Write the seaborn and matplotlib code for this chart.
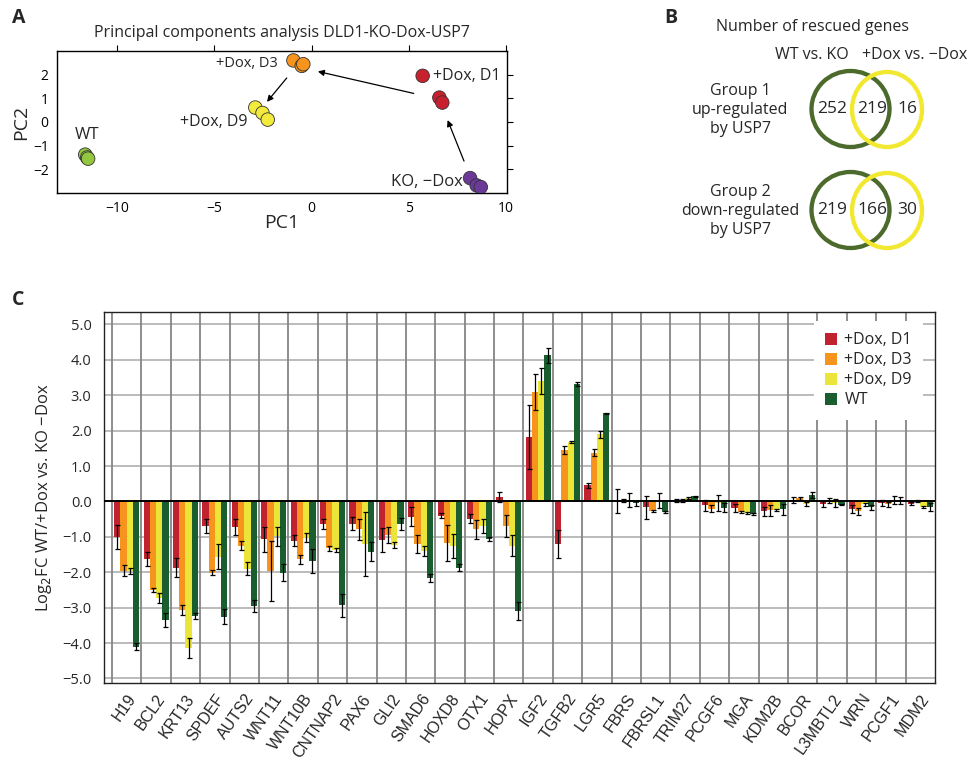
import matplotlib

matplotlib.use("Agg")
import matplotlib.pyplot as plt
import numpy as np
import pandas as pd
import seaborn as sns
from matplotlib.patches import Ellipse

# ----------------------------------------------------------------------
# Data
# ----------------------------------------------------------------------

# Panel A: PCA coordinates (three replicates per condition)
pca_groups = ["WT", "+Dox, D3", "+Dox, D9", "+Dox, D1", "KO, \u2212Dox"]
pca_pc1 = [
    [-11.65, -11.55, -11.5],
    [-0.94, -0.51, -0.43],
    [-2.9, -2.53, -2.26],
    [5.71, 6.57, 6.72],
    [8.15, 8.49, 8.7],
]
pca_pc2 = [
    [-1.38, -1.5, -1.55],
    [2.6, 2.37, 2.44],
    [0.61, 0.38, 0.1],
    [1.95, 1.03, 0.82],
    [-2.37, -2.68, -2.75],
]
pca_colors = ["#93c83e", "#f7941d", "#f2ea3c", "#c8202f", "#6b3a98"]

# Panel B: Venn counts (WT vs. KO only, overlap, +Dox vs. -Dox only)
venn_group1 = [252, 219, 16]
venn_group2 = [219, 166, 30]

# Panel C: log2 fold changes
genes = [
    "H19", "BCL2", "KRT13", "SPDEF", "AUTS2", "WNT11", "WNT10B", "CNTNAP2",
    "PAX6", "GLI2", "SMAD6", "HOXD8", "OTX1", "HOPX", "IGF2", "TGFB2", "LGR5",
    "FBRS", "FBRSL1", "TRIM27", "PCGF6", "MGA", "KDM2B", "BCOR", "L3MBTL2",
    "WRN", "PCGF1", "MDM2",
]
conditions = ["+Dox, D1", "+Dox, D3", "+Dox, D9", "WT"]
bar_colors = ["#c0222f", "#f7941d", "#ebe53a", "#1a5e2f"]

fc_d1 = [-1.0, -1.62, -1.87, -0.69, -0.72, -1.07, -1.11, -0.65, -0.63, -1.08,
         -0.43, -0.4, -0.49, 0.12, 1.82, -1.2, 0.45, 0.0, -0.17, 0.02, -0.11,
         -0.18, -0.28, 0.04, -0.08, -0.21, -0.05, -0.06]
fc_d3 = [-1.96, -2.5, -3.06, -2.01, -1.25, -1.96, -1.64, -1.33, -0.79, -0.95,
         -1.2, -1.17, -0.79, -0.69, 3.09, 1.45, 1.38, 0.03, -0.28, 0.03, -0.21,
         -0.3, -0.25, 0.09, 0.03, -0.28, -0.08, 0.01]
fc_d9 = [-1.96, -2.74, -4.13, -1.56, -1.9, -0.98, -1.02, -1.37, -1.2, -1.23,
         -1.39, -1.26, -0.7, -1.25, 3.4, 1.68, 1.9, 0.03, 0.03, 0.09, -0.05,
         -0.33, -0.24, -0.08, -0.05, -0.08, 0.04, -0.15]
fc_wt = [-4.1, -3.35, -3.23, -3.26, -2.95, -2.01, -1.68, -2.94, -1.42, -0.64,
         -2.16, -1.87, -1.06, -3.09, 4.13, 3.31, 2.49, -0.05, -0.3, 0.14, -0.18,
         -0.36, -0.22, 0.18, -0.09, -0.17, 0.03, -0.15]

err_d1 = [0.34, 0.2, 0.27, 0.2, 0.22, 0.35, 0.15, 0.14, 0.19, 0.34, 0.27, 0.07,
          0.13, 0.14, 0.9, 0.39, 0.08, 0.34, 0.32, 0.05, 0.16, 0.12, 0.13, 0.09,
          0.08, 0.12, 0.09, 0.05]
err_d3 = [0.15, 0.05, 0.14, 0.06, 0.13, 0.84, 0.12, 0.07, 0.3, 0.23, 0.26, 0.5,
          0.27, 0.32, 0.52, 0.11, 0.1, 0.05, 0.03, 0.05, 0.1, 0.03, 0.15, 0.04,
          0.08, 0.09, 0.07, 0.02]
err_d9 = [0.09, 0.14, 0.28, 0.36, 0.18, 0.27, 0.12, 0.05, 0.91, 0.08, 0.14, 0.33,
          0.19, 0.29, 0.37, 0.03, 0.1, 0.2, 0.21, 0.03, 0.22, 0.02, 0.03, 0.05,
          0.11, 0.04, 0.1, 0.03]
err_wt = [0.1, 0.2, 0.08, 0.21, 0.16, 0.23, 0.34, 0.33, 0.27, 0.18, 0.12, 0.1,
          0.05, 0.26, 0.21, 0.05, 0.02, 0.07, 0.04, 0.02, 0.13, 0.02, 0.15, 0.08,
          0.02, 0.08, 0.1, 0.11]

MAIN_FONT = ["Open Sans", "DejaVu Sans"]

sns.set_theme(style="white")
plt.rcParams["font.family"] = MAIN_FONT
plt.rcParams["axes.unicode_minus"] = True

fig = plt.figure(figsize=(9.73, 7.64), dpi=100)

# ----------------------------------------------------------------------
# Panel A: PCA scatter
# ----------------------------------------------------------------------
ax_a = fig.add_axes([0.0586, 0.7474, 0.4625, 0.1859])
pca_rows = []
for grp, xs, ys in zip(pca_groups, pca_pc1, pca_pc2):
    for x, y in zip(xs, ys):
        pca_rows.append({"group": grp, "PC1": x, "PC2": y})
pca_df = pd.DataFrame(pca_rows)
sns.scatterplot(
    data=pca_df, x="PC1", y="PC2", hue="group", hue_order=pca_groups,
    palette=pca_colors, s=95, edgecolor="#333333", linewidth=0.6,
    legend=False, ax=ax_a, zorder=3,
)
ax_a.set_xlim(-13.1, 10.05)
ax_a.set_ylim(-3.0, 3.0)
ax_a.set_xticks([-10, -5, 0, 5, 10])
ax_a.set_yticks([-2, -1, 0, 1, 2])
ax_a.tick_params(axis="both", which="both", direction="out", length=4, width=0.8,
                 top=True, right=True, labelsize=10, pad=2, colors="black")
for side in ["top", "right", "bottom", "left"]:
    ax_a.spines[side].set_color("black")
    ax_a.spines[side].set_linewidth(1.0)
ax_a.set_xlabel("PC1", fontsize=14, labelpad=-2)
ax_a.set_ylabel("PC2", fontsize=14, labelpad=2)
ax_a.set_title("Principal components analysis DLD1-KO-Dox-USP7", fontsize=11.5, pad=10)

arrow_kw = dict(arrowstyle="-|>", color="black", lw=0.9, mutation_scale=9)
ax_a.annotate("", xy=(0.18, 2.16), xytext=(5.39, 1.18), arrowprops=arrow_kw)
ax_a.annotate("", xy=(-2.39, 0.76), xytext=(-1.19, 1.95), arrowprops=arrow_kw)
ax_a.annotate("", xy=(6.94, 0.19), xytext=(7.89, -1.76), arrowprops=arrow_kw)

ax_a.text(-1.72, 2.45, "+Dox, D3", ha="right", va="center", fontsize=10.5)
ax_a.text(-3.3, 0.0, "+Dox, D9", ha="right", va="center", fontsize=11.5)
ax_a.text(-11.56, -0.57, "WT", ha="center", va="center", fontsize=12)
ax_a.text(6.25, 1.95, "+Dox, D1", ha="left", va="center", fontsize=11.5)
ax_a.text(7.8, -2.54, "KO, \u2212Dox", ha="right", va="center", fontsize=12)

# ----------------------------------------------------------------------
# Panel B: Venn diagrams (drawn in pixel coordinates on an overlay)
# ----------------------------------------------------------------------
ax_b = fig.add_axes([0, 0, 1, 1])
ax_b.set_xlim(0, 973)
ax_b.set_ylim(764, 0)
ax_b.axis("off")
ax_b.patch.set_alpha(0)

ax_b.text(813, 27, "Number of rescued genes", ha="center", va="center", fontsize=11.5)
ax_b.text(812, 55, "WT vs. KO", ha="center", va="center", fontsize=11.5)
ax_b.text(915, 55, "+Dox vs. \u2212Dox", ha="center", va="center", fontsize=11.5)

for cy, counts, label in [
    (109, venn_group1, "Group 1\nup-regulated\nby USP7"),
    (210, venn_group2, "Group 2\ndown-regulated\nby USP7"),
]:
    ax_b.add_patch(Ellipse((850.5, cy), 78, 76, fill=False, edgecolor="#4b6a2b", lw=3.1))
    ax_b.add_patch(Ellipse((887, cy + 0.5), 70, 75, fill=False, edgecolor="#f2e830", lw=3.1))
    for xpos, n in zip([832.5, 872, 907], counts):
        ax_b.text(xpos, cy, str(n), ha="center", va="center", fontsize=12.5, zorder=5)
    ax_b.text(740, cy + 1, label, ha="center", va="center", fontsize=11.5, linespacing=1.25)

fig.text(0.012, 0.977, "A", fontsize=14, fontweight="bold", ha="left", va="center")
fig.text(0.683, 0.977, "B", fontsize=14, fontweight="bold", ha="left", va="center")
fig.text(0.012, 0.607, "C", fontsize=14, fontweight="bold", ha="left", va="center")

# ----------------------------------------------------------------------
# Panel C: bar chart with error bars
# ----------------------------------------------------------------------
ax_c = fig.add_axes([0.1069, 0.1060, 0.854, 0.4856])

fc_series = [fc_d1, fc_d3, fc_d9, fc_wt]
err_series = [err_d1, err_d3, err_d9, err_wt]
rows = []
for cond, vals, errs in zip(conditions, fc_series, err_series):
    for g, v, e in zip(genes, vals, errs):
        rows.append({"gene": g, "condition": cond, "fc": v, "err": e})
df = pd.DataFrame(rows)

sns.barplot(
    data=df, x="gene", y="fc", hue="condition", order=genes, hue_order=conditions,
    palette=bar_colors, width=0.85, errorbar=None, saturation=1, linewidth=0,
    ax=ax_c, zorder=2,
)

# error bars, one container per condition
for cont, cond in zip(ax_c.containers, conditions):
    sub = df[df["condition"] == cond].set_index("gene").loc[genes]
    xs = [p.get_x() + p.get_width() / 2 for p in cont.patches]
    ax_c.errorbar(xs, sub["fc"].values, yerr=sub["err"].values, fmt="none",
                  ecolor="black", elinewidth=0.9, capsize=1.8, capthick=0.9, zorder=4)

ax_c.set_xlim(-0.772, 27.5)
ax_c.set_ylim(-5.13, 5.35)
ytick_vals = np.arange(-5, 6, 1)
ax_c.set_yticks(ytick_vals)
ax_c.set_yticklabels([f"{v:.1f}".replace("-", "\u2212") for v in ytick_vals], fontsize=10.5)
ax_c.set_xticks(range(len(genes)))
ax_c.set_xticklabels(genes, rotation=55, ha="right", rotation_mode="anchor",
                     fontsize=11.5, family=["Liberation Sans", "DejaVu Sans"])
ax_c.tick_params(axis="y", direction="out", length=7, width=0.8, color="#555555", pad=2)
ax_c.tick_params(axis="x", length=0, pad=6)

for v in ytick_vals:
    if v != 0:
        ax_c.axhline(v, color="#b5b5b5", lw=1.3, zorder=0)
for b in np.arange(-0.5, len(genes) - 1, 1.0):
    ax_c.axvline(b, color="#858585", lw=1.3, zorder=1)
ax_c.axhline(0, color="black", lw=1.4, zorder=3)

for side in ["top", "right", "bottom", "left"]:
    ax_c.spines[side].set_color("#222222")
    ax_c.spines[side].set_linewidth(1.0)

ax_c.set_xlabel("")
ax_c.set_ylabel("Log$_2$FC WT/+Dox vs. KO \u2212Dox", fontsize=12, labelpad=6)

leg = ax_c.legend(loc="upper right", bbox_to_anchor=(0.9856, 0.975), frameon=True,
                  fontsize=11.5, handlelength=0.75, handleheight=0.75, handletextpad=0.45,
                  labelspacing=0.25, borderpad=0.7, borderaxespad=0)
leg.get_frame().set_facecolor("white")
leg.get_frame().set_edgecolor("none")
leg.get_frame().set_alpha(1.0)
leg.set_zorder(5)

fig.savefig("out.png", dpi=100)
